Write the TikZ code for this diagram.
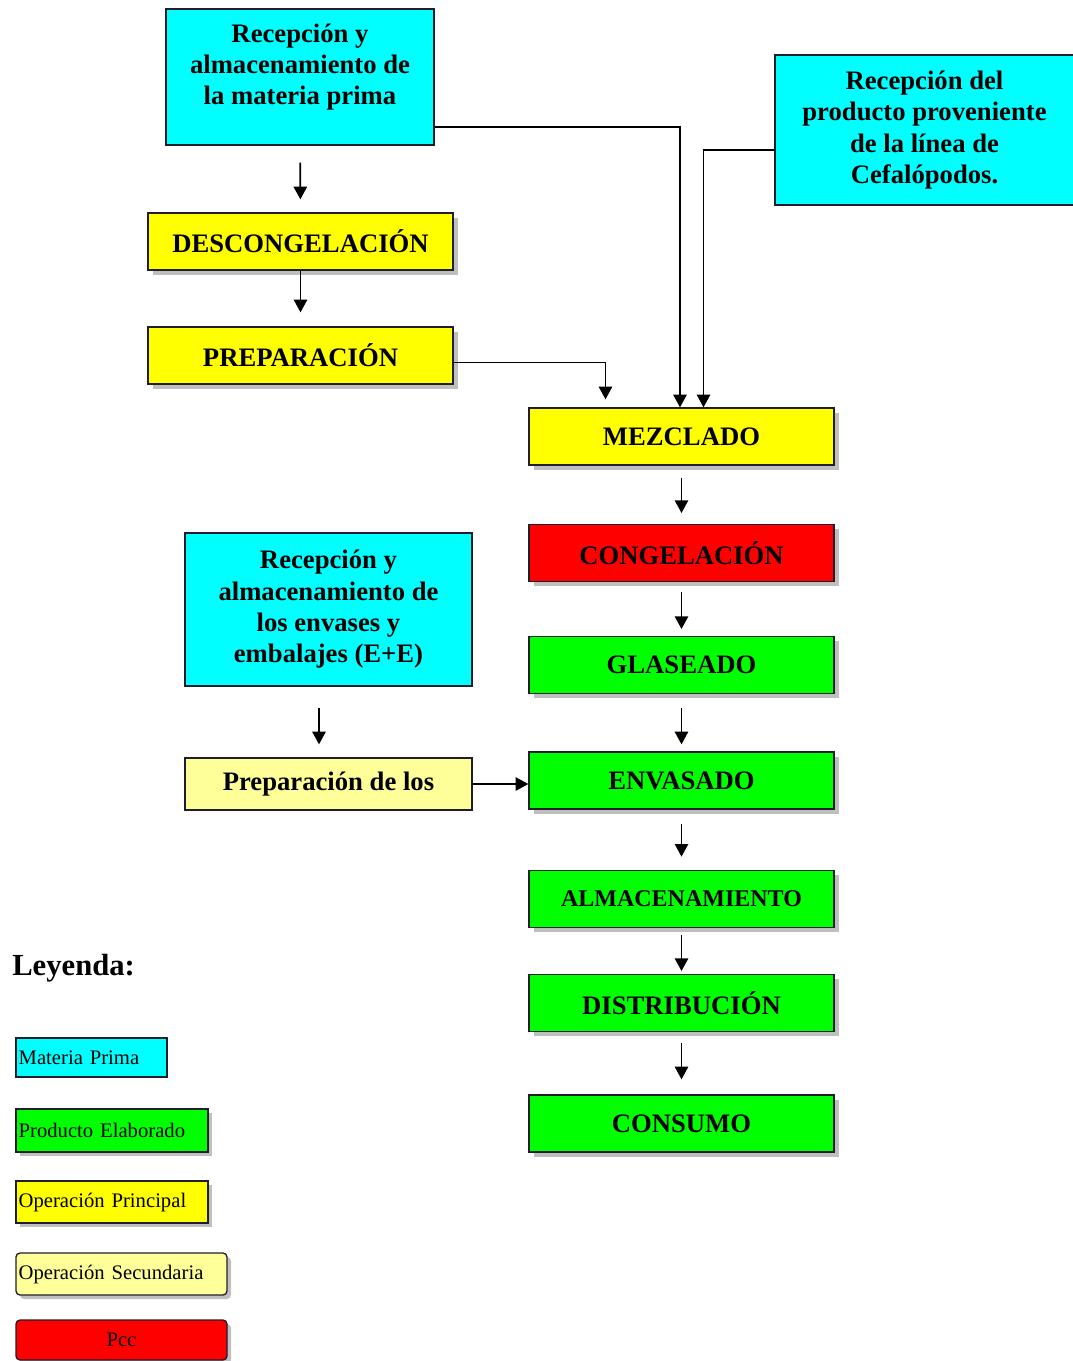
\documentclass[tikz,border=0pt]{standalone}
\usepackage{fontspec}
\setmainfont{Liberation Serif}
\usepackage{tikz}
\usetikzlibrary{arrows.meta, positioning, shadows, calc}
\definecolor{mpcyan}{RGB}{0, 255, 255}
\definecolor{opyellow}{RGB}{255, 255, 0}
\definecolor{secyellow}{RGB}{255, 255, 153}
\definecolor{pccred}{RGB}{255, 0, 0}
\definecolor{progreen}{RGB}{0, 255, 0}
\definecolor{darkline}{RGB}{30, 30, 45}

\begin{document}
\begin{tikzpicture}[
    x=0.75pt, y=-0.75pt,
    inbox/.style={draw=darkline, line width=1pt, fill=mpcyan, inner sep=0pt, align=center, font=\fontsize{20}{23.5}\selectfont\bfseries},
    stage/.style={draw=darkline, line width=1pt, minimum width=228.75pt, minimum height=42.75pt, inner sep=0pt, font=\fontsize{20}{24}\selectfont\bfseries, drop shadow={shadow xshift=3.5pt, shadow yshift=-3.5pt}},
    legend/.style={draw=darkline, line width=1pt, inner xsep=2pt, inner ysep=0pt, align=left, font=\fontsize{15.5}{18}\selectfont},
    arrow/.style={-{Triangle[width=10pt, length=9.5pt]}, line width=1.3pt, black}
]
    \useasboundingbox (0,0) rectangle (1073,1361);

    % Nodes - raw material branch
    \node[inbox, minimum width=201pt, minimum height=102pt] (raw) at (300,77) {Recepción y\\almacenamiento de\\la materia prima\rule[-19pt]{0pt}{0pt}};
    \node[inbox, minimum width=224.25pt, minimum height=112.5pt] (cef) at (924.5,130) {Recepción del\\producto proveniente\\de la línea de\\Cefalópodos.};
    \node[stage, fill=opyellow] (desc) at (300.5,241.5) {DESCONGELACIÓN};
    \node[stage, fill=opyellow] (prep) at (300.5,355.5) {PREPARACIÓN};

    % Nodes - main line
    \node[stage, fill=opyellow] (mez) at (681.5,436.5) {MEZCLADO};
    \node[stage, fill=pccred, below=43.5pt of mez] (cong) {CONGELACIÓN};
    \node[stage, fill=progreen, below=40.5pt of cong] (glas) {GLASEADO};
    \node[stage, fill=progreen, below=42.75pt of glas] (env) {ENVASADO};
    \node[stage, fill=progreen, below=45pt of env, font=\fontsize{18}{22}\selectfont\bfseries] (alm) {ALMACENAMIENTO};
    \node[stage, fill=progreen, below=34.5pt of alm] (dist) {DISTRIBUCIÓN};
    \node[stage, fill=progreen, below=46.5pt of dist] (cons) {CONSUMO};

    % Nodes - packaging branch
    \node[inbox, minimum width=215.25pt, minimum height=114.75pt] (ee) at (328.5,609.5) {Recepción y\\almacenamiento de\\los envases y\\embalajes (E+E)};
    \node[inbox, fill=secyellow, minimum width=215.25pt, minimum height=39pt] (prepee) at (328.5,784) {Preparación de los};

    % Legend
    \node[anchor=base west, inner sep=0pt, font=\fontsize{23}{26}\selectfont\bfseries] (leytitle) at (12,975) {Leyenda:};
    \node[legend, fill=mpcyan, text width=109.25pt, minimum height=29.25pt] (lmp) at (91.5,1057.5) {Materia Prima};
    \node[legend, fill=progreen, line width=2pt, text width=140pt, minimum height=32.25pt, drop shadow={shadow xshift=3pt, shadow yshift=-3pt}] (lpe) at (112,1130.5) {Producto Elaborado};
    \node[legend, fill=opyellow, line width=2pt, text width=140pt, minimum height=31.5pt, drop shadow={shadow xshift=3pt, shadow yshift=-3pt}] (lop) at (112,1202) {Operación Principal};
    \node[legend, fill=secyellow, rounded corners=3pt, text width=154.25pt, minimum height=31.5pt, drop shadow={shadow xshift=3pt, shadow yshift=-3pt}] (los) at (121.5,1274) {Operación Secundaria};
    \node[legend, fill=pccred, rounded corners=3pt, align=center, text width=154.25pt, minimum height=30pt, drop shadow={shadow xshift=3pt, shadow yshift=-3pt}] (lpcc) at (121.5,1340) {Pcc};

    % Arrows
    \draw[arrow, shorten <=12.75pt, shorten >=9.75pt] (raw) -- (desc);
    \draw[arrow, shorten >=10.5pt] (desc) -- (prep);
    \draw[arrow, shorten >=6pt] ($(prep.east)+(0,7)$) -| ($(mez.north)+(-76,0)$);
    \draw[arrow] ($(raw.east)+(0,50)$) -| ($(mez.north)+(-1.5,0)$);
    \draw[arrow] ($(cef.west)+(0,20)$) -| ($(mez.north)+(22,0)$);
    \draw[arrow, shorten <=9pt, shorten >=8pt] (mez) -- (cong);
    \draw[arrow, shorten <=7.5pt, shorten >=5.25pt] (cong) -- (glas);
    \draw[arrow, shorten <=10.5pt, shorten >=5.25pt] (glas) -- (env);
    \draw[arrow, shorten <=10.5pt, shorten >=9.75pt] (env) -- (alm);
    \draw[arrow, shorten <=5.25pt, shorten >=2.25pt] (alm) -- (dist);
    \draw[arrow, shorten <=8.25pt, shorten >=11.25pt] (dist) -- (cons);
    \draw[arrow, shorten <=15.75pt, shorten >=9.75pt] ($(ee.south)+(-9.5,0)$) -- ($(prepee.north)+(-9.5,0)$);
    \draw[arrow] (prepee.east) -- (prepee.east -| env.west);
\end{tikzpicture}
\end{document}
